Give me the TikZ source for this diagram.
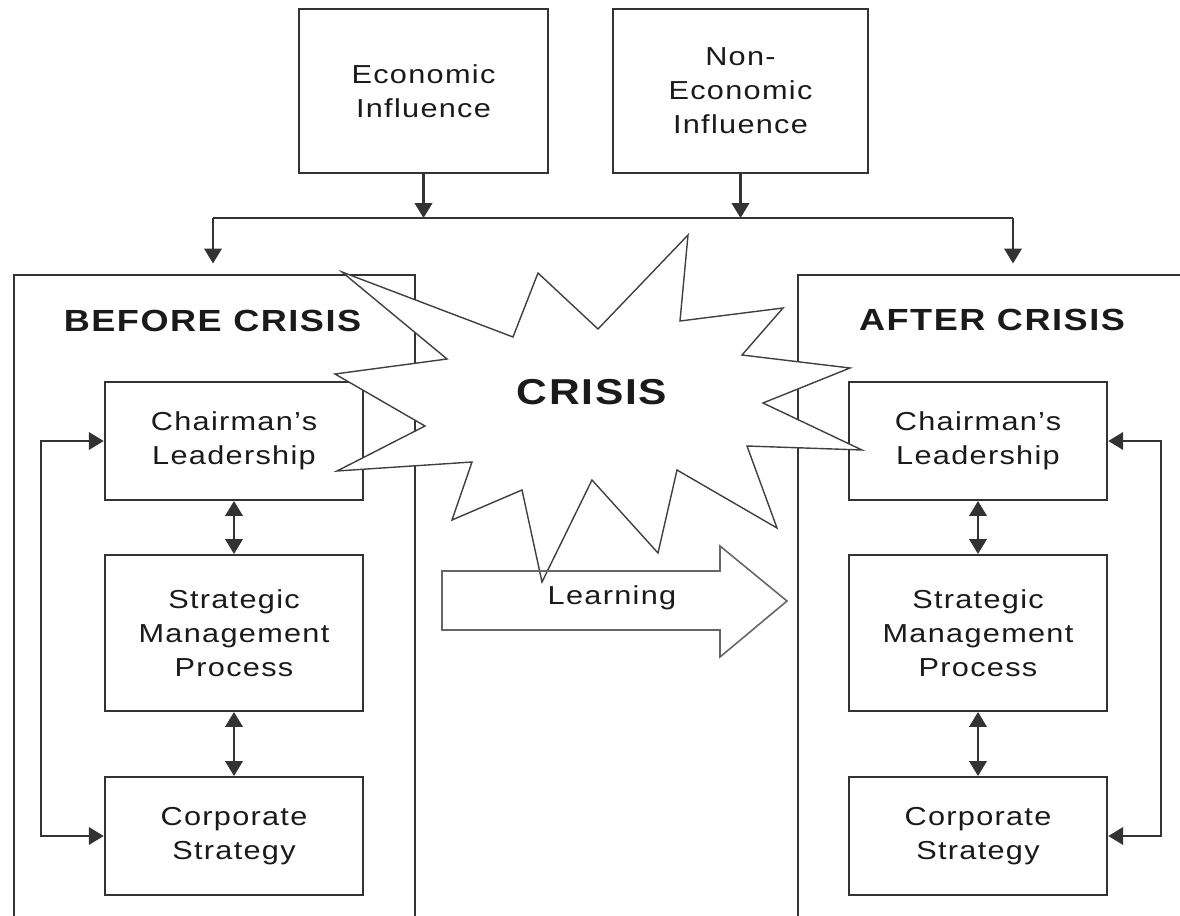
\documentclass[tikz,border=0pt]{standalone}
\usepackage{fontspec}
\setmainfont{Liberation Sans}[FakeStretch=1.18,LetterSpace=5]
\usepackage{xcolor}
\usepackage{tikz}
\usetikzlibrary{arrows.meta,positioning,calc}
\definecolor{linegray}{HTML}{333333}
\definecolor{inkgray}{HTML}{1A1A1A}

\begin{document}
\begin{tikzpicture}[x=0.02cm, y=-0.02cm,
    box/.style={draw=linegray, line width=1.2pt, align=center, inner sep=0pt,
      text=inkgray, font=\fontsize{14.8}{19.3}\selectfont},
    inbox/.style={box, minimum width=5.17cm},
    outer/.style={draw=linegray, line width=1.2pt, anchor=north west, inner sep=0pt},
    conn/.style={draw=linegray, line width=1.2pt},
    arr/.style={conn, -{Triangle[length=8.5pt,width=10pt]}},
    darr/.style={conn, {Triangle[length=8.5pt,width=10pt]}-{Triangle[length=8.5pt,width=10pt]}},
    title/.style={text=inkgray, font=\fontsize{17.4}{20}\selectfont\bfseries},
    burst/.style={draw=black!75, line width=0.8pt, fill=white, line join=miter}]

    \clip (0,0) rectangle (1180,916);

    % Influences on top
    \node[box, minimum width=4.98cm, minimum height=3.28cm] (econ) at (423.5,91) {Economic\\Influence};
    \node[box, minimum width=5.1cm, minimum height=3.28cm] (nonecon) at (740.5,91) {Non-\\Economic\\Influence};

    \coordinate (splitL) at (213,218);
    \coordinate (splitR) at (1013,218);
    \draw[conn] (splitL) -- (splitR);
    \draw[arr] (econ) -- (econ |- splitL);
    \draw[arr] (nonecon) -- (nonecon |- splitL);

    % Before and after frames
    \node[outer, minimum width=8.02cm, minimum height=13.6cm] (before) at (13,274) {};
    \node[outer, minimum width=8.6cm, minimum height=13.6cm] (after) at (797,274) {};
    \draw[arr, shorten >=6pt] (splitL) -- (splitL |- before.north);
    \draw[arr, shorten >=6pt] (splitR) -- (splitR |- after.north);

    \node[title] (beforetitle) at (212.5,321) {BEFORE CRISIS};
    \node[title] (aftertitle) at (992,320) {AFTER CRISIS};

    % Inner boxes
    \foreach \side/\x in {B/234, A/978} {
        \node[inbox, minimum height=2.36cm] (chair\side) at (\x,441) {Chairman’s\\Leadership};
        \node[inbox, minimum height=3.12cm] (strat\side) at (\x,633) {Strategic\\Management\\Process};
        \node[inbox, minimum height=2.36cm] (corp\side) at (\x,836) {Corporate\\Strategy};
        \draw[darr] (chair\side) -- (strat\side);
        \draw[darr] (strat\side) -- (corp\side);
    }

    % Feedback loops
    \draw[darr] (chairB.west) -- ++(-63,0) |- (corpB.west);
    \draw[darr] (chairA.east) -- ++(53,0) |- (corpA.east);

    % Crisis burst
    \draw[burst] (342,272) -- (513,337) -- (538,273) -- (598,329) -- (688,235) -- (680,321)
        -- (783,308) -- (742,355) -- (850,368) -- (763,403) -- (862,450) -- (747,446)
        -- (777,528) -- (677,470) -- (658,553) -- (592,480) -- (542,582) -- (522,490)
        -- (452,520) -- (472,462) -- (337,471) -- (425,426) -- (335,374) -- (447,359) -- cycle;
    \node[title, font=\fontsize{20.5}{22}\selectfont\bfseries] (crisis) at (592,392) {CRISIS};

    % Learning arrow
    \draw[draw=black!60, line width=0.9pt, line join=miter] (442,571) -- (720,571) -- (720,546)
        -- (787,601) -- (720,657) -- (720,630) -- (442,630) -- cycle;
    \node[text=inkgray, font=\fontsize{14.8}{19.3}\selectfont] (learning) at (612,598) {Learning};
\end{tikzpicture}
\end{document}
